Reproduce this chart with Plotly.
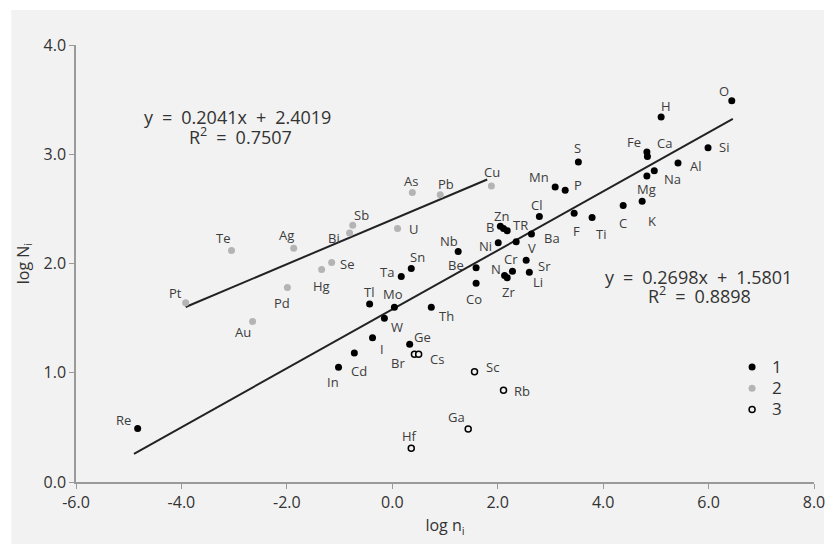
import plotly.graph_objects as go

# ---------------- data ----------------
g1_names = ["Re", "In", "Cd", "I", "Ge", "W", "Tl", "Mo", "Th", "Ta", "Sn", "Be", "Co", "Nb",
            "Ni", "B", "Zn", "TR", "V", "Ba", "Cr", "N", "Zr", "Sr", "Li", "Cl", "F", "Ti",
            "Mn", "P", "S", "C", "K", "Mg", "Na", "Fe", "Ca", "Al", "H", "Si", "O"]
g1_x = [-4.83, -1.02, -0.72, -0.375, 0.33, -0.15, -0.43, 0.04, 0.74, 0.17, 0.36, 1.59, 1.59, 1.25,
        2.01, 2.11, 2.05, 2.18, 2.35, 2.64, 2.28, 2.13, 2.18, 2.54, 2.60, 2.79, 3.45, 3.79,
        3.09, 3.28, 3.53, 4.38, 4.74, 4.83, 4.97, 4.83, 4.84, 5.42, 5.10, 5.99, 6.44]
g1_y = [0.49, 1.05, 1.18, 1.32, 1.26, 1.50, 1.63, 1.60, 1.60, 1.88, 1.955, 1.96, 1.82, 2.11,
        2.19, 2.32, 2.34, 2.30, 2.20, 2.27, 1.93, 1.89, 1.87, 2.03, 1.92, 2.43, 2.46, 2.42,
        2.70, 2.67, 2.93, 2.53, 2.57, 2.80, 2.85, 3.02, 2.98, 2.92, 3.34, 3.06, 3.49]

g2_names = ["Pt", "Te", "Au", "Ag", "Pd", "Hg", "Se", "Bi", "Sb", "U", "As", "Pb", "Cu"]
g2_x = [-3.92, -3.05, -2.65, -1.87, -1.99, -1.34, -1.15, -0.81, -0.75, 0.10, 0.38, 0.91, 1.88]
g2_y = [1.64, 2.12, 1.47, 2.14, 1.78, 1.945, 2.01, 2.28, 2.35, 2.32, 2.65, 2.63, 2.71]

g3_names = ["Br", "Cs", "Sc", "Rb", "Ga", "Hf"]
g3_x = [0.42, 0.50, 1.56, 2.11, 1.44, 0.36]
g3_y = [1.17, 1.17, 1.01, 0.84, 0.486, 0.31]

series_names = ["1", "2", "3"]

# regression fits (as printed on the chart)
fit1_slope, fit1_icpt, fit1_r2 = 0.2698, 1.5801, 0.8898
fit1_xrange = [-4.90, 6.46]
fit2_slope, fit2_icpt, fit2_r2 = 0.2041, 2.4019, 0.7507
fit2_xrange = [-3.92, 1.80]

x_ticks = [-6, -4, -2, 0, 2, 4, 6, 8]
x_ticktext = ["-6.0", "-4.0", "-2.0", "0.0", "2.0", "4.0", "6.0", "8.0"]
y_ticks = [0, 1, 2, 3, 4]
y_ticktext = ["0.0", "1.0", "2.0", "3.0", "4.0"]

# ---------------- label offsets (px, y up) ----------------
label_offsets = {
    "Re": (-14, 8), "In": (-6, -15), "Cd": (5, -18), "I": (9, -11), "Ge": (13, 7),
    "Br": (-16, -9), "Cs": (18, -5), "Sc": (18, 5), "Rb": (18, -1), "Ga": (-12, 12),
    "Hf": (-2, 12), "As": (-1, 11), "Pb": (6, 11), "Cu": (1, 14), "Sb": (9, 10),
    "Bi": (-16, -5), "U": (16, 0), "Se": (15, -2), "Hg": (0, -16), "Nb": (-9, 10),
    "Sn": (6, 11), "Ta": (-14, 5), "Be": (-20, 3), "Co": (-2, -16), "Tl": (-1, 12),
    "Mo": (-1, 13), "W": (13, -9), "Th": (15, -9), "Zn": (1, 10), "B": (-14, 2),
    "TR": (13, 6), "Ni": (-13, -3), "V": (16, -6), "Ba": (21, -4), "Cr": (-1, 12),
    "N": (-9, 7), "Zr": (1, -14), "Sr": (18, -6), "Li": (9, -10), "O": (-8, 10),
    "H": (5, 11), "Si": (16, 1), "Fe": (-13, 10), "Ca": (17, 13), "Al": (18, -3),
    "Na": (18, -8), "Mg": (0, -13), "K": (10, -20), "C": (0, -17), "S": (-1, 14),
    "Mn": (-16, 10), "P": (13, 5), "Cl": (-3, 12), "F": (2, -18), "Ti": (9, -16),
    "Te": (-9, 12), "Ag": (-7, 13), "Pt": (-10, 10), "Pd": (-5, -15), "Au": (-10, -11),
}

BG = "#f2f2f2"
FONT = "Open Sans"
TXT = "#3c3c3c"
AX = "#9a9a9a"

fig = go.Figure()

# regression lines
for (sl, ic, xr) in [(fit2_slope, fit2_icpt, fit2_xrange), (fit1_slope, fit1_icpt, fit1_xrange)]:
    fig.add_trace(go.Scatter(
        x=xr, y=[sl * v + ic for v in xr], mode="lines",
        line=dict(color="#222222", width=2), showlegend=False, hoverinfo="skip"))

leg_names = [f"<span style='font-size:17px'>{s}</span>" for s in series_names]
fig.add_trace(go.Scatter(x=g1_x, y=g1_y, mode="markers", name=leg_names[0],
                         marker=dict(color="#000000", size=7, line=dict(width=0))))
fig.add_trace(go.Scatter(x=g2_x, y=g2_y, mode="markers", name=leg_names[1],
                         marker=dict(color="#b4b4b4", size=7, line=dict(width=0))))
fig.add_trace(go.Scatter(x=g3_x, y=g3_y, mode="markers", name=leg_names[2],
                         marker=dict(color=BG, size=6, line=dict(color="#000000", width=1.5))))

annotations = []
for names, xs, ys in [(g1_names, g1_x, g1_y), (g2_names, g2_x, g2_y), (g3_names, g3_x, g3_y)]:
    for n, xv, yv in zip(names, xs, ys):
        dx, dy = label_offsets.get(n, (10, 0))
        annotations.append(dict(x=xv, y=yv, xref="x", yref="y", text=n, showarrow=False,
                                xshift=dx, yshift=dy,
                                font=dict(family=FONT, size=13, color=TXT)))

SP = "\u2002"

def eq_text(sl, ic):
    return f"y{SP}={SP}{sl:.4f}x{SP}+{SP}{ic:.4f}"

def r2_text(r2):
    return f"R<sup>2</sup>{SP}={SP}{r2:.4f}"

eq_font = dict(family=FONT, size=18, color="#333333")
annotations += [
    dict(x=-2.93, y=3.34, xref="x", yref="y", text=eq_text(fit2_slope, fit2_icpt),
         showarrow=False, font=eq_font),
    dict(x=-2.875, y=3.165, xref="x", yref="y", text=r2_text(fit2_r2),
         showarrow=False, font=eq_font),
    dict(x=5.80, y=1.88, xref="x", yref="y", text=eq_text(fit1_slope, fit1_icpt),
         showarrow=False, font=eq_font),
    dict(x=5.82, y=1.715, xref="x", yref="y", text=r2_text(fit1_r2),
         showarrow=False, font=eq_font),
]

fig.update_layout(
    width=829, height=546,
    paper_bgcolor="#ffffff", plot_bgcolor=BG,
    margin=dict(l=68, r=20, t=37, b=72),
    font=dict(family=FONT, size=16, color="#333333"),
    annotations=annotations,
    shapes=[dict(type="rect", xref="paper", yref="paper", x0=-0.0877, x1=1.0135,
                 y0=-0.1419, y1=1.0801, fillcolor=BG, line=dict(width=0), layer="below")],
    legend=dict(x=0.889, y=0.2986, xanchor="left", yanchor="top", bgcolor="rgba(0,0,0,0)",
                font=dict(family=FONT, size=14, color="#333333"), tracegroupgap=0,
                itemwidth=30),
    xaxis=dict(range=[-6, 8], tickvals=x_ticks, ticktext=x_ticktext, showgrid=False,
               zeroline=False, showline=True, linecolor=AX, linewidth=1.5,
               ticks="outside", ticklen=5, tickcolor=AX, tickwidth=1,
               title=dict(text="log n<sub>i</sub>", standoff=8,
                          font=dict(family=FONT, size=16, color="#333333")),
               tickfont=dict(family=FONT, size=16, color="#333333")),
    yaxis=dict(range=[0, 4], tickvals=y_ticks, ticktext=y_ticktext, showgrid=False,
               zeroline=False, showline=True, linecolor=AX, linewidth=1.5,
               ticks="outside", ticklen=5, tickcolor=AX, tickwidth=1,
               title=dict(text="log N<sub>i</sub>", standoff=10,
                          font=dict(family=FONT, size=16, color="#333333")),
               tickfont=dict(family=FONT, size=16, color="#333333")),
)

fig.write_html("out.html")
